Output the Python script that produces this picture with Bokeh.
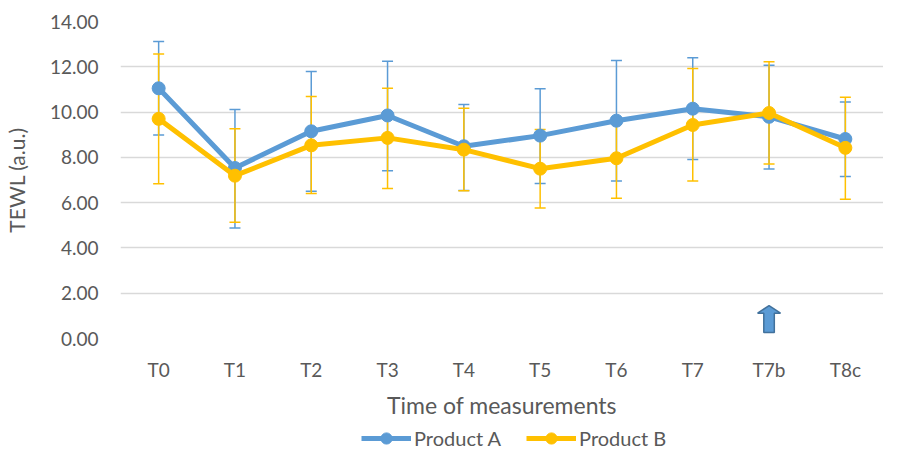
import numpy as np
from bokeh.plotting import figure
from bokeh.layouts import column
from bokeh.models import (ColumnDataSource, Range1d, FixedTicker, NumeralTickFormatter,
                          Whisker, TeeHead, Legend, LegendItem)
from bokeh.embed import file_html
from bokeh.resources import INLINE

categories = ["T0", "T1", "T2", "T3", "T4", "T5", "T6", "T7", "T7b", "T8c"]
a_mean = [11.05, 7.53, 9.15, 9.85, 8.49, 8.96, 9.62, 10.15, 9.79, 8.81]
a_upper = [13.12, 10.11, 11.79, 12.25, 10.33, 11.03, 12.28, 12.40, 12.07, 10.45]
a_lower = [8.99, 4.88, 6.50, 7.41, 6.54, 6.85, 6.96, 7.90, 7.49, 7.15]
b_mean = [9.70, 7.19, 8.53, 8.86, 8.34, 7.50, 7.96, 9.43, 9.96, 8.42]
b_upper = [12.57, 9.26, 10.69, 11.05, 10.17, 9.23, 9.73, 11.92, 12.22, 10.65]
b_lower = [6.83, 5.13, 6.40, 6.63, 6.52, 5.76, 6.19, 6.96, 7.71, 6.15]
y_ticks = [0, 2, 4, 6, 8, 10, 12, 14]
series_names = ["Product A", "Product B"]

arrow_category = "T7b"
arrow_bottom, arrow_neck, arrow_top = 0.27, 1.12, 1.45
arrow_shaft_half, arrow_head_half = 0.069, 0.15

BLUE = "#5b9bd5"
YELLOW = "#ffc000"
TEXT = "#595959"
FONT = "Lato"

x = np.arange(len(categories))
src_a = ColumnDataSource(dict(x=x, y=a_mean, up=a_upper, lo=a_lower))
src_b = ColumnDataSource(dict(x=x, y=b_mean, up=b_upper, lo=b_lower))

p = figure(width=883, height=422, min_border_left=118, min_border_right=0,
           min_border_top=21, min_border_bottom=84,
           x_range=Range1d(-0.5, len(categories) - 0.5), y_range=Range1d(0, 14),
           output_backend="svg", toolbar_location=None, tools="")
p.outline_line_color = None
p.background_fill_color = "white"
p.border_fill_color = "white"

p.xgrid.grid_line_color = None
p.ygrid.grid_line_color = "#d9d9d9"
p.ygrid.grid_line_width = 1.5
p.ygrid.ticker = FixedTicker(ticks=y_ticks)

p.yaxis.ticker = FixedTicker(ticks=y_ticks)
p.yaxis.formatter = NumeralTickFormatter(format="0.00")
p.xaxis.ticker = FixedTicker(ticks=list(x))
p.xaxis.major_label_overrides = {int(i): c for i, c in zip(x, categories)}
for ax in (p.xaxis, p.yaxis):
    ax.axis_line_color = None
    ax.major_tick_line_color = None
    ax.minor_tick_line_color = None
    ax.major_tick_out = 0
    ax.major_tick_in = 0
    ax.major_label_text_font = FONT
    ax.major_label_text_font_size = "19px"
    ax.major_label_text_color = TEXT
    ax.axis_label_text_font = FONT
    ax.axis_label_text_color = TEXT
    ax.axis_label_text_font_style = "normal"
p.yaxis.major_label_standoff = 22
p.yaxis.axis_label = "TEWL (a.u.)"
p.yaxis.axis_label_text_font_size = "21px"
p.yaxis.axis_label_standoff = 18
p.xaxis.major_label_standoff = 19
p.xaxis.axis_label = "Time of measurements"
p.xaxis.axis_label_text_font_size = "23px"
p.xaxis.axis_label_standoff = 7

for src, col in ((src_a, BLUE), (src_b, YELLOW)):
    w = Whisker(source=src, base="x", upper="up", lower="lo",
                line_color=col, line_width=1.5,
                upper_head=TeeHead(size=11, line_color=col, line_width=1.5),
                lower_head=TeeHead(size=11, line_color=col, line_width=1.5))
    p.add_layout(w)

p.line("x", "y", source=src_a, line_color=BLUE, line_width=5)
p.scatter("x", "y", source=src_a, size=13, fill_color=BLUE, line_color=BLUE)
p.line("x", "y", source=src_b, line_color=YELLOW, line_width=5)
p.scatter("x", "y", source=src_b, size=13, fill_color=YELLOW, line_color=YELLOW)

ax_i = categories.index(arrow_category)
arrow_x = [ax_i - arrow_shaft_half, ax_i - arrow_shaft_half, ax_i - arrow_head_half, ax_i,
           ax_i + arrow_head_half, ax_i + arrow_shaft_half, ax_i + arrow_shaft_half]
arrow_y = [arrow_bottom, arrow_neck, arrow_neck, arrow_top, arrow_neck, arrow_neck, arrow_bottom]
p.patch(arrow_x, arrow_y, fill_color=BLUE, line_color="#41719c", line_width=1.5)

# legend strip below the chart (glyph renderers carry no visible data)
p2 = figure(width=883, height=31, min_border=0, x_range=Range1d(0, 1), y_range=Range1d(0, 1),
            x_axis_location=None, y_axis_location=None,
            output_backend="svg", toolbar_location=None, tools="")
p2.outline_line_color = None
p2.grid.visible = False
items = []
for name, col in zip(series_names, (BLUE, YELLOW)):
    hidden = ColumnDataSource(dict(x=[np.nan], y=[np.nan]))
    r1 = p2.line("x", "y", source=hidden, line_color=col, line_width=5)
    r2 = p2.scatter("x", "y", source=hidden, size=13, fill_color=col, line_color=col)
    items.append(LegendItem(label=name, renderers=[r1, r2]))
legend = Legend(items=items, orientation="horizontal", location=(241, 1),
                label_text_font=FONT, label_text_font_size="20px", label_text_color=TEXT,
                glyph_width=50, glyph_height=28, label_standoff=3, spacing=25,
                border_line_color=None, background_fill_alpha=0, padding=0, margin=0)
p2.add_layout(legend)

open("out.html", "w").write(file_html(column(p, p2, spacing=0), INLINE))
